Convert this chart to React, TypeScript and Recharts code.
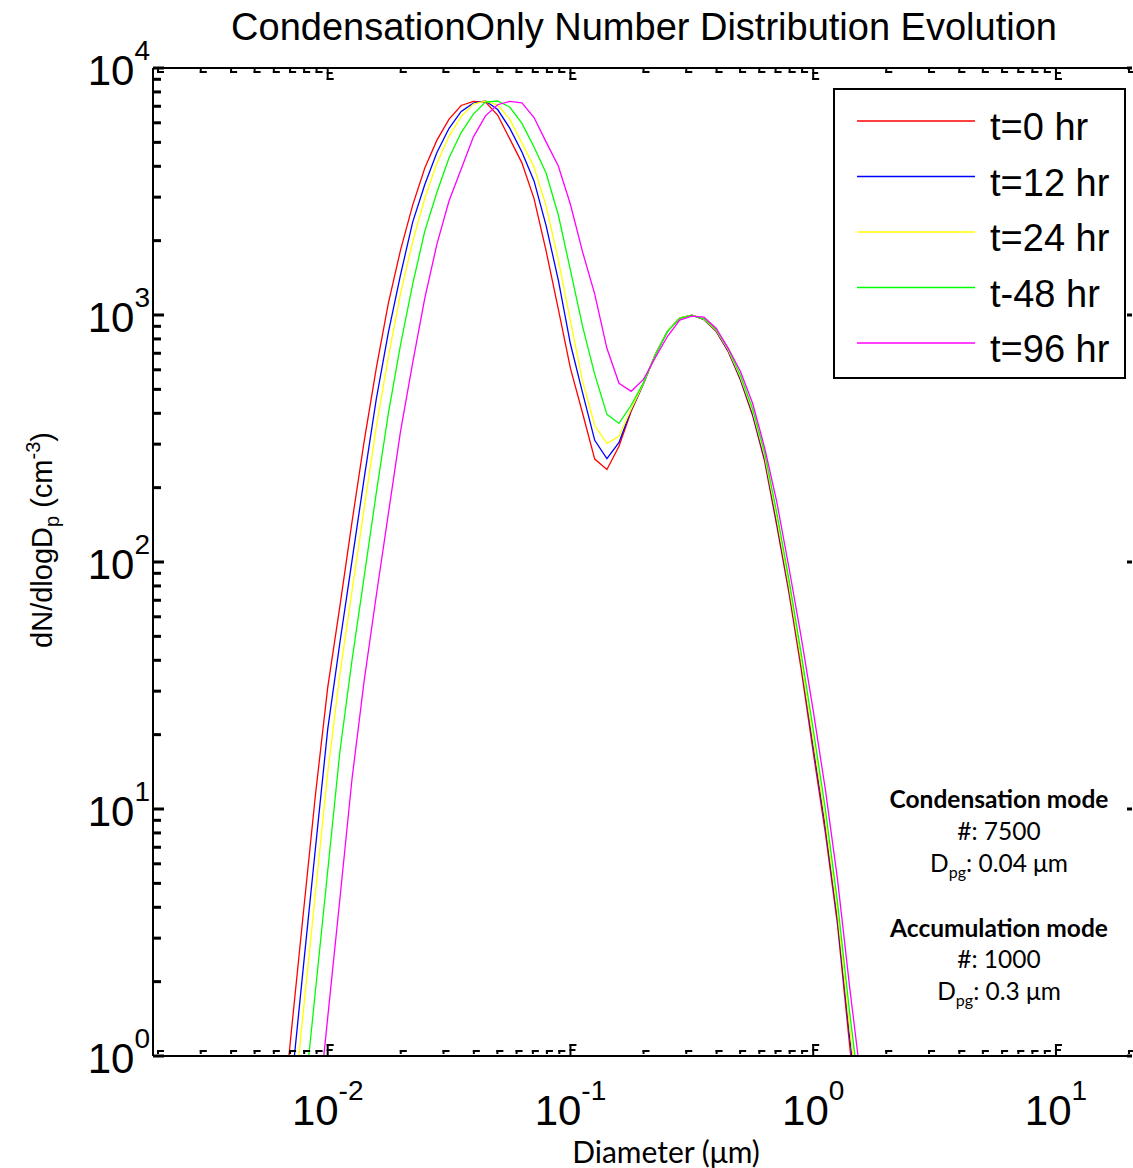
import React from "react";
import { LineChart, Line, XAxis, YAxis } from "recharts";

const W = 1133;
const H = 1168;
const ARIAL = "'Liberation Sans', Arial, sans-serif";
const CALIBRI = "Lato, 'Open Sans', sans-serif";

// bin diameters (um)
const diameters = [
  0.00631, 0.00708, 0.00794, 0.00891, 0.01, 0.01122, 0.01259, 0.01413, 0.01585, 0.01778,
  0.01995, 0.02239, 0.02512, 0.02818, 0.03162, 0.03548, 0.03981, 0.04467, 0.05012, 0.05623,
  0.0631, 0.07079, 0.07943, 0.08913, 0.1, 0.1122, 0.1259, 0.1413, 0.1585, 0.1778,
  0.1995, 0.2239, 0.2512, 0.2818, 0.3162, 0.3548, 0.3981, 0.4467, 0.5012, 0.5623,
  0.631, 0.7079, 0.7943, 0.8913, 1.0, 1.122, 1.259, 1.413, 1.585,
];

// dN/dlogDp (cm^-3)
const t0 = [
  0.4, 1.25, 3.8, 11.5, 31, 66, 145, 308, 608, 1117,
  1830, 2785, 3935, 5105, 6210, 7050, 7330, 7280, 6450, 5165,
  4130, 2958, 1813, 1056, 608, 400, 261, 237, 294, 407,
  525, 693, 859, 971, 998, 957, 859, 710, 545, 393,
  255, 140, 75, 37, 17, 8, 3.4, 1.1, 0.4,
];
const t12 = [
  0.25, 0.75, 2.3, 7.0, 21, 47, 101, 218, 456, 851,
  1455, 2377, 3374, 4550, 5700, 6670, 7210, 7350, 6790, 5710,
  4570, 3490, 2296, 1383, 763, 484, 311, 262, 305, 412,
  526, 693, 860, 972, 998, 960, 864, 716, 552, 400,
  262, 145, 78, 39, 18, 8.5, 3.6, 1.2, 0.45,
];
const t24 = [
  0.17, 0.5, 1.52, 4.6, 14, 35, 76, 165, 351, 676,
  1220, 1980, 2970, 4120, 5300, 6370, 7140, 7350, 7080, 6210,
  4970, 3970, 2760, 1670, 946, 540, 357, 302, 323, 415,
  527, 694, 861, 973, 998, 962, 868, 722, 560, 408,
  268, 150, 80, 40, 19, 9, 3.8, 1.3, 0.5,
];
const t48 = [
  0.07, 0.2, 0.61, 1.85, 5.6, 17, 40, 87, 190, 400,
  757, 1333, 2185, 3140, 4330, 5480, 6510, 7280, 7350, 6950,
  5970, 4790, 3750, 2540, 1518, 900, 575, 396, 364, 431,
  530, 690, 858, 970, 997, 965, 874, 730, 570, 418,
  277, 158, 85, 43, 21, 10, 4.2, 1.5, 0.6,
];
const t96 = [
  0.02, 0.05, 0.155, 0.47, 1.43, 4.3, 13.2, 33, 73, 157,
  338, 640, 1170, 1936, 2900, 3900, 5250, 6400, 7100, 7330,
  7230, 6300, 5010, 4010, 2800, 1800, 1215, 733, 529, 491,
  547, 674, 820, 953, 989, 980, 884, 733, 592, 440,
  290, 175, 95, 50, 25, 12, 5.2, 1.9, 0.75,
];

const seriesKeys = ["t0", "t12", "t24", "t48", "t96"];
const seriesNames = ["t=0 hr", "t=12 hr", "t=24 hr", "t-48 hr", "t=96 hr"];
const seriesColors = ["#ff0000", "#0000ff", "#ffff00", "#00ff00", "#ff00ff"];
const seriesValues = [t0, t12, t24, t48, t96];

const xDomain = [0.001907, 20.57];
const yDomain = [1, 10000];
const xMajorTicks = [0.01, 0.1, 1, 10];
const xMinorTicks = [
  0.002, 0.003, 0.004, 0.005, 0.006, 0.007, 0.008, 0.009,
  0.02, 0.03, 0.04, 0.05, 0.06, 0.07, 0.08, 0.09,
  0.2, 0.3, 0.4, 0.5, 0.6, 0.7, 0.8, 0.9,
  2, 3, 4, 5, 6, 7, 8, 9, 20,
];
const yMajorTicks = [1, 10, 100, 1000, 10000];
const yMinorTicks = [
  2, 3, 4, 5, 6, 7, 8, 9,
  20, 30, 40, 50, 60, 70, 80, 90,
  200, 300, 400, 500, 600, 700, 800, 900,
  2000, 3000, 4000, 5000, 6000, 7000, 8000, 9000,
];

const rows = diameters.map((d, i) => {
  const row: any = { d };
  seriesKeys.forEach((k, j) => (row[k] = seriesValues[j][i]));
  return row;
});

const xTicks = [...xMinorTicks, ...xMajorTicks].sort((a, b) => a - b);
const yTicks = [...yMinorTicks, ...yMajorTicks].sort((a, b) => a - b);

const exponent = (v: number) => Math.round(Math.log10(v));

// ticks drawn as small inward marks, labels as 10^n
const BottomTick = ({ x, y, payload }: any) => {
  const major = xMajorTicks.includes(payload.value);
  return (
    <g fill="#000">
      {major ? (
        <>
          <rect x={x - 1} y={y - 12} width={2} height={12} />
          <rect x={x - 1} y={y - 12} width={7} height={2} />
          <rect x={x - 1} y={y - 7} width={6} height={2} />
        </>
      ) : (
        <>
          <rect x={x - 1} y={y - 6} width={7} height={2} />
          <rect x={x - 1} y={y - 6} width={2} height={4} />
        </>
      )}
      {major && (
        <text x={x} y={y + 69} textAnchor="middle" fontFamily={ARIAL} fontSize={42}>
          10
          <tspan dy={-25} fontSize={28}>
            {exponent(payload.value)}
          </tspan>
        </text>
      )}
    </g>
  );
};

const TopTick = ({ x, y, payload }: any) => {
  const major = xMajorTicks.includes(payload.value);
  return (
    <g fill="#000">
      {major ? (
        <>
          <rect x={x - 1} y={y} width={2} height={12} />
          <rect x={x - 1} y={y + 4} width={6} height={2} />
          <rect x={x - 1} y={y + 10} width={7} height={2} />
        </>
      ) : (
        <>
          <rect x={x - 1} y={y + 3} width={7} height={2} />
          <rect x={x - 1} y={y + 1} width={2} height={4} />
        </>
      )}
    </g>
  );
};

const LeftTick = ({ x, y, payload }: any) => {
  const major = yMajorTicks.includes(payload.value);
  return (
    <g fill="#000">
      <rect x={x} y={y - 1.5} width={major ? 11 : 8} height={3} />
      {major && (
        <text x={x - 3} y={y + 17} textAnchor="end" fontFamily={ARIAL} fontSize={42}>
          10
          <tspan dy={-25} fontSize={28}>
            {exponent(payload.value)}
          </tspan>
        </text>
      )}
    </g>
  );
};

const RightTick = ({ x, y, payload }: any) => {
  const major = yMajorTicks.includes(payload.value);
  if (!major) return <g />;
  return <rect x={x - 5} y={y - 1.5} width={5} height={3} fill="#000" />;
};

const axisLine = { stroke: "#000", strokeWidth: 2 };

export default function App() {
  return (
    <div style={{ position: "relative", width: W, height: H, background: "#fff" }}>
      <style>{"body{margin:0;background:#fff}"}</style>
      <LineChart
        width={W}
        height={H}
        data={rows}
        margin={{ top: 67, right: 0, bottom: 111, left: 152 }}
      >
        <XAxis
          dataKey="d"
          type="number"
          scale="log"
          domain={xDomain}
          allowDataOverflow
          ticks={xTicks}
          interval={0}
          height={1}
          tickSize={0}
          tickMargin={0}
          tickLine={false}
          axisLine={axisLine}
          tick={<BottomTick />}
        />
        <XAxis
          xAxisId="top"
          orientation="top"
          dataKey="d"
          type="number"
          scale="log"
          domain={xDomain}
          allowDataOverflow
          ticks={xTicks}
          interval={0}
          height={1}
          tickSize={0}
          tickMargin={0}
          tickLine={false}
          axisLine={axisLine}
          tick={<TopTick />}
        />
        <YAxis
          type="number"
          scale="log"
          domain={yDomain}
          allowDataOverflow
          ticks={yTicks}
          interval={0}
          width={1}
          tickSize={0}
          tickMargin={0}
          tickLine={false}
          axisLine={axisLine}
          tick={<LeftTick />}
        />
        <YAxis
          yAxisId="right"
          orientation="right"
          type="number"
          scale="log"
          domain={yDomain}
          allowDataOverflow
          ticks={yTicks}
          interval={0}
          width={1}
          tickSize={0}
          tickMargin={0}
          tickLine={false}
          axisLine={false}
          tick={<RightTick />}
        />
        {seriesKeys.map((k, i) => (
          <Line
            key={k}
            dataKey={k}
            name={seriesNames[i]}
            type="linear"
            stroke={seriesColors[i]}
            strokeWidth={1.3}
            dot={false}
            activeDot={false}
            isAnimationActive={false}
          />
        ))}
      </LineChart>

      <svg
        width={W}
        height={H}
        style={{ position: "absolute", left: 0, top: 0, pointerEvents: "none" }}
      >
        <text x={644} y={40} textAnchor="middle" fontFamily={ARIAL} fontSize={38}>
          CondensationOnly Number Distribution Evolution
        </text>

        <text
          transform="translate(52,540) rotate(-90)"
          textAnchor="middle"
          fontFamily={ARIAL}
          fontSize={29}
        >
          dN/dlogD
          <tspan dy={7} fontSize={20}>p</tspan>
          <tspan dy={-7}> (cm</tspan>
          <tspan dy={-12} fontSize={20}>-3</tspan>
          <tspan dy={12}>)</tspan>
        </text>

        <text x={666} y={1163} textAnchor="middle" fontFamily={CALIBRI} fontSize={30}>
          Diameter (μm)
        </text>

        <g fontFamily={CALIBRI} fontSize={24.5} textAnchor="middle">
          <text x={999} y={808} fontWeight="bold">Condensation mode</text>
          <text x={999} y={840}>#: 7500</text>
          <text x={999} y={872}>
            D<tspan dy={6} fontSize={16}>pg</tspan>
            <tspan dy={-6}>: 0.04 μm</tspan>
          </text>
          <text x={999} y={937} fontWeight="bold">Accumulation mode</text>
          <text x={999} y={968}>#: 1000</text>
          <text x={999} y={1000}>
            D<tspan dy={6} fontSize={16}>pg</tspan>
            <tspan dy={-6}>: 0.3 μm</tspan>
          </text>
        </g>

        <rect x={834} y={89} width={291} height={289} fill="#fff" stroke="#000" strokeWidth={2} />
        {seriesNames.map((name, i) => (
          <g key={name}>
            <line
              x1={857}
              x2={975}
              y1={121 + 55.5 * i}
              y2={121 + 55.5 * i}
              stroke={seriesColors[i]}
              strokeWidth={1.3}
            />
            <text x={990} y={140 + 55.5 * i} fontFamily={ARIAL} fontSize={38}>
              {name}
            </text>
          </g>
        ))}
      </svg>
    </div>
  );
}
